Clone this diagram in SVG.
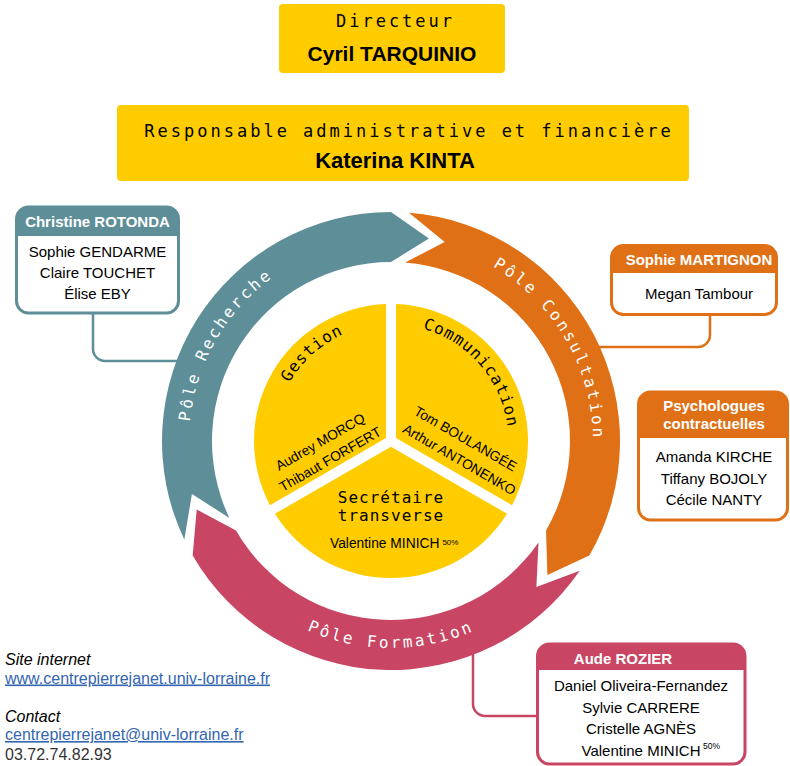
<svg xmlns="http://www.w3.org/2000/svg" width="790" height="766" viewBox="0 0 790 766">
<style>
.mono{font-family:"DejaVu Sans Mono","Liberation Mono",monospace}
.sans{font-family:"Liberation Sans",Arial,sans-serif}
.top{font-size:17px;letter-spacing:3px;fill:#000}
.topname{font-weight:bold;fill:#000}
.ring{font-size:16px;letter-spacing:2.7px;fill:#fff}
.sec{font-size:16px;letter-spacing:1px;fill:#000}
.pname{font-size:13.8px;fill:#000}
.hdr{font-size:15px;font-weight:bold;fill:#fff}
.body{font-size:15px;fill:#000}
.yellow{fill:#FFCC00}
.teal{fill:#5E8E98}
.orange{fill:#E07016}
.pink{fill:#C84563}
.box{fill:#fff;stroke-width:3}
.conn{fill:none;stroke-width:2.5}
.info{font-size:16px}
</style>
<defs>
<path id="pRech" d="M216.06,542 A202,202 0 0,1 391,239"/>
<path id="pCons" d="M391,239 A202,202 0 0,1 565.94,542"/>
<path id="pForm" d="M211.73,544.5 A207,207 0 0,0 570.27,544.5"/>
<path id="pGest" d="M276.56,465.33 A117,117 0 0,1 427.16,329.73"/>
<path id="pComm" d="M369.68,325.96 A118,118 0 0,1 502.23,480.4"/>
</defs>

<g id="directeur">
<rect x="279" y="4" width="226" height="69" rx="4" class="yellow"/>
<text x="395.5" y="27" class="mono top" text-anchor="middle">Directeur</text>
<text x="392" y="61" class="sans topname" font-size="21" text-anchor="middle">Cyril TARQUINIO</text>
</g>

<g id="responsable">
<rect x="117" y="105" width="572" height="76" rx="4" class="yellow"/>
<text x="409" y="137" class="mono top" text-anchor="middle">Responsable administrative et financière</text>
<text x="395" y="168" class="sans topname" font-size="22" text-anchor="middle">Katerina KINTA</text>
</g>

<g id="connectors">
<path class="conn" stroke="#5E8E98" d="M93,313 V349 A12,12 0 0 0 105,361 H185"/>
<path class="conn" stroke="#E07016" d="M710,314 V335 A12,12 0 0 1 698,347 H595"/>
<path class="conn" stroke="#C84563" d="M473,650 V704 A12,12 0 0 0 485,716 H537"/>
</g>

<g id="pole-recherche">
<path class="teal" d="M184.31,539.59 A229,229 0 0,1 391,212 L428.89,238.51 L391,262 A179,179 0 0,0 229.44,518.06 L191.93,493.97 Z"/>
<text class="mono ring"><textPath href="#pRech" startOffset="50%" text-anchor="middle">Pôle Recherche</textPath></text>
</g>
<g id="pole-consultation">
<path class="orange" d="M408.97,212.7 A229,229 0 0,1 589.32,555.5 L547.41,575.06 L546.02,530.5 A179,179 0 0,0 405.04,262.55 L444.66,242.11 Z"/>
<text class="mono ring"><textPath href="#pCons" startOffset="50%" text-anchor="middle">Pôle Consultation</textPath></text>
</g>
<g id="pole-formation">
<path class="pink" d="M579.73,570.71 A229,229 0 0,1 192.68,555.5 L196.7,509.42 L235.98,530.5 A179,179 0 0,0 538.52,542.39 L536.41,586.92 Z"/>
<text class="mono ring"><textPath href="#pForm" startOffset="50%" text-anchor="middle">Pôle Formation</textPath></text>
</g>

<g id="gestion">
<path class="yellow" d="M386,438.1 L269.93,505.13 A137,137 0 0,1 386,304.1 Z"/>
<text class="mono sec"><textPath href="#pGest" startOffset="50%" text-anchor="middle">Gestion</textPath></text>
<text transform="translate(322.5,446) rotate(-30)" class="sans pname" text-anchor="middle"><tspan x="0" y="0">Audrey MORCQ</tspan><tspan x="0" y="20">Thibaut FORFERT</tspan></text>
</g>
<g id="communication">
<path class="yellow" d="M396,438.1 L396,304.1 A137,137 0 0,1 512.07,505.13 Z"/>
<text class="mono sec"><textPath href="#pComm" startOffset="50%" text-anchor="middle">Communication</textPath></text>
<text transform="translate(413,414) rotate(30)" class="sans pname"><tspan x="0" y="0">Tom BOULANGÉE</tspan><tspan x="-1" y="21">Arthur ANTONENKO</tspan></text>
</g>
<g id="secretaire">
<path class="yellow" d="M391,446.77 L507.07,513.79 A137,137 0 0,1 274.93,513.79 Z"/>
<text class="mono sec" font-size="15.5" text-anchor="middle"><tspan x="391" y="503">Secrétaire</tspan><tspan x="391" y="521">transverse</tspan></text>
<text x="330" y="548" class="sans pname">Valentine MINICH<tspan font-size="8" dx="3" dy="-3">50%</tspan></text>
</g>

<g id="christine-rotonda">
<rect x="16.5" y="207" width="162" height="106" rx="12" class="box" stroke="#5E8E98"/>
<path d="M16.5,236 V219 A12,12 0 0 1 28.5,207 H166.5 A12,12 0 0 1 178.5,219 V236 Z" class="teal"/>
<text x="97.5" y="227" class="sans hdr" text-anchor="middle">Christine ROTONDA</text>
<text class="sans body" text-anchor="middle"><tspan x="97.5" y="257">Sophie GENDARME</tspan><tspan x="97.5" y="278">Claire TOUCHET</tspan><tspan x="97.5" y="299">Élise EBY</tspan></text>
</g>

<g id="sophie-martignon">
<rect x="611.5" y="245.5" width="165" height="69" rx="12" class="box" stroke="#E07016"/>
<path d="M611.5,273 V257.5 A12,12 0 0 1 623.5,245.5 H764.5 A12,12 0 0 1 776.5,257.5 V273 Z" class="orange"/>
<text x="699" y="265" class="sans hdr" text-anchor="middle">Sophie MARTIGNON</text>
<text x="699" y="298.5" class="sans body" text-anchor="middle">Megan Tambour</text>
</g>

<g id="psychologues">
<rect x="638.5" y="392" width="149" height="128" rx="12" class="box" stroke="#E07016"/>
<path d="M638.5,438 V404 A12,12 0 0 1 650.5,392 H775.5 A12,12 0 0 1 787.5,404 V438 Z" class="orange"/>
<text class="sans hdr" text-anchor="middle"><tspan x="714" y="411">Psychologues</tspan><tspan x="714" y="428.5">contractuelles</tspan></text>
<text class="sans body" text-anchor="middle"><tspan x="714" y="462">Amanda KIRCHE</tspan><tspan x="714" y="483.5">Tiffany BOJOLY</tspan><tspan x="714" y="505">Cécile NANTY</tspan></text>
</g>

<g id="aude-rozier">
<rect x="537.5" y="644" width="207.5" height="120" rx="12" class="box" stroke="#C84563"/>
<path d="M537.5,670 V656 A12,12 0 0 1 549.5,644 H733 A12,12 0 0 1 745,656 V670 Z" class="pink"/>
<text x="623" y="663.5" class="sans hdr" text-anchor="middle">Aude ROZIER</text>
<text class="sans body" text-anchor="middle"><tspan x="641" y="691">Daniel Oliveira-Fernandez</tspan><tspan x="641" y="712.5">Sylvie CARRERE</tspan><tspan x="641" y="734">Cristelle AGNÈS</tspan><tspan x="641" y="756">Valentine MINICH</tspan></text>
<text x="703" y="749" class="sans" font-size="8.5" fill="#000">50%</text>
</g>

<g id="infos" class="sans info">
<text x="5" y="665" font-style="italic" fill="#000">Site internet</text>
<text x="5" y="683.5" fill="#3465B0" text-decoration="underline">www.centrepierrejanet.univ-lorraine.fr</text>
<text x="5" y="722" font-style="italic" fill="#000">Contact</text>
<text x="5" y="740" fill="#3465B0" text-decoration="underline">centrepierrejanet@univ-lorraine.fr</text>
<text x="5" y="760" fill="#333">03.72.74.82.93</text>
</g>
</svg>
